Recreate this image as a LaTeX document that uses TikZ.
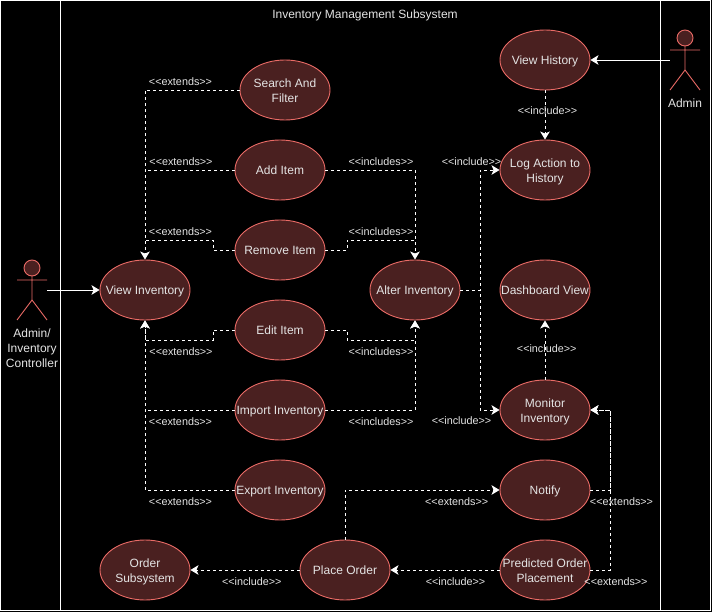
\documentclass[tikz,border=0pt]{standalone}
\usepackage{fontspec}
\setmainfont{Liberation Sans}
\usetikzlibrary{arrows.meta,shapes.geometric}
\definecolor{uc}{HTML}{4A2020}
\definecolor{ucline}{HTML}{EA6B66}
\definecolor{txt}{HTML}{E4E4E4}
\tikzset{
  usecase/.style={ellipse,draw=ucline,fill=uc,line width=0.9pt,minimum width=90pt,minimum height=60pt,
    inner xsep=-60pt,inner ysep=-25pt,text height=8.6pt,text depth=0pt,
    text=txt,font=\fontsize{12}{15}\selectfont,align=center},
  usecasetwo/.style={usecase,text height=24.6pt},
  actorbox/.style={rectangle,inner sep=0pt,minimum width=30pt,minimum height=60pt},
  actorhead/.style={draw=ucline,line width=0.9pt,fill=uc},
  actorpart/.style={draw=ucline,line width=0.9pt},
  actorname/.style={text=txt,font=\fontsize{12}{15}\selectfont,align=center,inner sep=0pt},
  frameline/.style={draw=white,line width=0.9pt},
  solidarrow/.style={draw=white,line width=0.9pt,-{Stealth[length=8pt,width=9.5pt,inset=2pt]}},
  dep/.style={draw=white,line width=0.9pt,dash pattern=on 3pt off 3pt},
  deparrow/.style={dep,-{Stealth[length=8pt,width=9.5pt,inset=2pt,sep=0pt]}},
  rel/.style={text=txt,font=\fontsize{10.8}{12}\selectfont,inner sep=0pt},
}
\begin{document}
\begin{tikzpicture}[x=1pt,y=-1pt]
\useasboundingbox (0,0) rectangle (712,612);
\fill[black] (0,0) rectangle (712,612);
\draw[frameline] (0.5,0.5) rectangle (710.5,610.5);
\draw[frameline] (60.5,0.5) -- (60.5,610.5);
\draw[frameline] (660.5,0.5) -- (660.5,610.5);
\node[text=txt,font=\fontsize{12}{15}\selectfont,inner sep=0pt] (title) at (365,15) {Inventory Management Subsystem};

% use cases
\node[usecasetwo] (search) at (285,90) {Search And\\Filter};
\node[usecase] (add) at (280,170) {Add Item};
\node[usecase] (remove) at (280,250) {Remove Item};
\node[usecase] (edit) at (280,330) {Edit Item};
\node[usecase] (import) at (280,410) {Import Inventory};
\node[usecase] (export) at (280,490) {Export Inventory};
\node[usecase] (view) at (145,290) {View Inventory};
\node[usecase] (alter) at (415,290) {Alter Inventory};
\node[usecase] (history) at (545,60) {View History};
\node[usecasetwo] (log) at (545,170) {Log Action to\\History};
\node[usecase] (dash) at (545,290) {Dashboard View};
\node[usecasetwo] (monitor) at (545,410) {Monitor\\Inventory};
\node[usecase] (notify) at (545,490) {Notify};
\node[usecasetwo] (predict) at (545,570) {Predicted Order\\Placement};
\node[usecase] (place) at (345,570) {Place Order};
\node[usecasetwo] (order) at (145,570) {Order\\Subsystem};

% actors
\node[actorbox] (actorA) at (32,290) {};
\draw[actorhead] (32,268) circle (8);
\draw[actorpart] (32,276) -- (32,300) (17,280) -- (47,280) (17,320) -- (32,300) -- (47,320);
\node[actorname,anchor=north] (actorAname) at (32,329) {Admin/\\Inventory\\Controller};
\node[actorbox] (actorB) at (685,60) {};
\draw[actorhead] (685,38) circle (8);
\draw[actorpart] (685,46) -- (685,70) (670,50) -- (700,50) (670,90) -- (685,70) -- (700,90);
\node[actorname,anchor=north] (actorBname) at (685,99) {Admin};

% solid connectors
\draw[solidarrow] (actorA.east) -- (view.west);
\draw[solidarrow] (actorB.west) -- (history.east);

% extends to View Inventory
\draw[deparrow] (search.west) -- (145,90) -- (view.north);
\draw[dep] (add.west) -- (145,170);
\draw[dep] (remove.west) -- (213,250) -- (213,240) -- (145,240);
\draw[deparrow] (edit.west) -- (213,330) -- (213,340) -- (145,340) -- (view.south);
\draw[dep] (import.west) -- (145,410);
\draw[deparrow] (export.west) -- (145,490) -- (view.south);

% includes to Alter Inventory
\draw[deparrow] (add.east) -- (415,170) -- (alter.north);
\draw[dep] (remove.east) -- (347,250) -- (347,240) -- (415,240);
\draw[deparrow] (edit.east) -- (347,330) -- (347,340) -- (415,340) -- (alter.south);
\draw[deparrow] (import.east) -- (415,410) -- (alter.south);

% Alter Inventory onwards
\draw[deparrow] (alter.east) -- (480,290) -- (480,170) -- (log.west);
\draw[deparrow] (alter.east) -- (480,290) -- (480,410) -- (monitor.west);
\draw[deparrow] (history.south) -- (log.north);
\draw[deparrow] (monitor.north) -- (dash.south);
\draw[deparrow] (notify.east) -- (610,490) -- (610,410) -- (monitor.east);
\draw[deparrow] (predict.east) -- (610,570) -- (610,410) -- (monitor.east);
\draw[deparrow] (predict.west) -- (place.east);
\draw[deparrow] (place.north) -- (345,490) -- (notify.west);
\draw[deparrow] (place.west) -- (order.east);

% labels
\node[rel] (l1) at (180.5,81.5) {<{}<extends>{}>};
\node[rel] (l2) at (181,161.5) {<{}<extends>{}>};
\node[rel] (l3) at (180.5,231.5) {<{}<extends>{}>};
\node[rel] (l4) at (181,351.5) {<{}<extends>{}>};
\node[rel] (l5) at (180.5,421.5) {<{}<extends>{}>};
\node[rel] (l6) at (180.5,501.5) {<{}<extends>{}>};
\node[rel] (l7) at (381,161.5) {<{}<includes>{}>};
\node[rel] (l8) at (381,231.5) {<{}<includes>{}>};
\node[rel] (l9) at (381,351.5) {<{}<includes>{}>};
\node[rel] (l10) at (381,421.5) {<{}<includes>{}>};
\node[rel] (l11) at (547.5,110.5) {<{}<include>{}>};
\node[rel] (l12) at (471.5,161.5) {<{}<include>{}>};
\node[rel] (l13) at (546.7,348.5) {<{}<include>{}>};
\node[rel] (l14) at (461.5,420.5) {<{}<include>{}>};
\node[rel] (l15) at (456.7,501.5) {<{}<extends>{}>};
\node[rel] (l16) at (621.5,501.5) {<{}<extends>{}>};
\node[rel] (l17) at (455.5,581.5) {<{}<include>{}>};
\node[rel] (l18) at (616,581.5) {<{}<extends>{}>};
\node[rel] (l19) at (251.8,581.5) {<{}<include>{}>};
\end{tikzpicture}
\end{document}
